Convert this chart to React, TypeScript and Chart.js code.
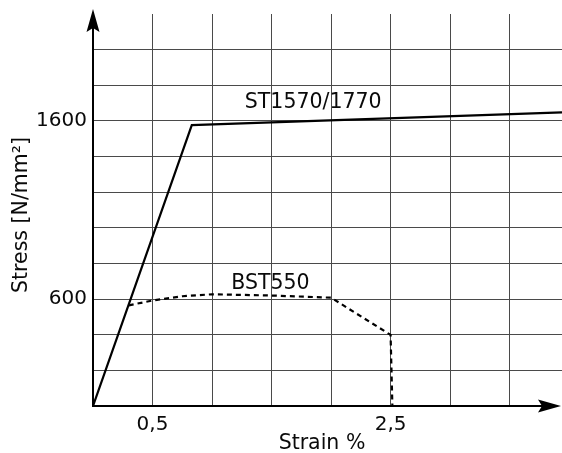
import React, { useEffect, useRef } from "react";
import { Chart, registerables } from "chart.js";

Chart.register(...registerables);

// Grid positions and which of them carry a label
const strainGrid = [0, 0.5, 1, 1.5, 2, 2.5, 3, 3.5];
const stressGrid = [0, 200, 400, 600, 800, 1000, 1200, 1400, 1600, 1800, 2000];
const strainLabelled = [0.5, 2.5];
const stressLabelled = [600, 1600];

// Prestressing steel curve
const st1570Strain = [0, 0.83, 3.94];
const st1570Stress = [0, 1576, 1648];

// Reinforcing steel curve (dashed)
const bst550Strain = [0.3, 0.5, 0.75, 1.0, 1.5, 2.0, 2.5, 2.515];
const bst550Stress = [565, 592, 616, 627, 620, 608, 399, 0];

// Curve names, placed at data coordinates
const curveNames = ["ST1570/1770", "BST550"];
const curveNameStrain = [1.85, 1.49];
const curveNameStress = [1702, 685];

const xTitle = "Strain %";
const yTitle = "Stress [N/mm²]";

const FONT = "'DejaVu Sans', Verdana, sans-serif";
const TEXT = "#0a0a0a";
const GRID = "#4a4a4a";

const toPoints = (xs: number[], ys: number[]) => xs.map((x, i) => ({ x, y: ys[i] }));
const fmt = (v: number) => String(v).replace(".", ",");

function arrowHead(ctx: CanvasRenderingContext2D, tipX: number, tipY: number, dir: "up" | "right") {
  const len = 23;
  const half = 6.5;
  const notch = 4;
  ctx.beginPath();
  if (dir === "up") {
    ctx.moveTo(tipX, tipY);
    ctx.lineTo(tipX + half, tipY + len);
    ctx.lineTo(tipX, tipY + len - notch);
    ctx.lineTo(tipX - half, tipY + len);
  } else {
    ctx.moveTo(tipX, tipY);
    ctx.lineTo(tipX - len, tipY + half);
    ctx.lineTo(tipX - len + notch, tipY);
    ctx.lineTo(tipX - len, tipY - half);
  }
  ctx.closePath();
  ctx.fill();
}

const decorations = {
  id: "decorations",
  afterDraw(chart: any) {
    const { ctx, chartArea, scales } = chart;
    const xs = scales.x;
    const ys = scales.y;
    const x0 = Math.round(xs.getPixelForValue(0));
    const y0 = Math.round(ys.getPixelForValue(0));
    ctx.save();
    ctx.strokeStyle = "#000";
    ctx.fillStyle = "#000";
    ctx.lineWidth = 2;
    // vertical axis with arrow
    ctx.beginPath();
    ctx.moveTo(x0, y0 + 1);
    ctx.lineTo(x0, 24);
    ctx.stroke();
    arrowHead(ctx, x0, 9, "up");
    // horizontal axis with arrow
    ctx.beginPath();
    ctx.moveTo(x0 - 1, y0);
    ctx.lineTo(chartArea.right - 12, y0);
    ctx.stroke();
    arrowHead(ctx, chartArea.right - 1, y0, "right");

    // curve names
    ctx.fillStyle = TEXT;
    ctx.font = `20.5px ${FONT}`;
    ctx.textAlign = "center";
    ctx.textBaseline = "middle";
    curveNames.forEach((name, i) => {
      ctx.fillText(name, xs.getPixelForValue(curveNameStrain[i]), ys.getPixelForValue(curveNameStress[i]));
    });

    // axis titles
    ctx.fillText(xTitle, 322, 444);
    ctx.translate(22, 215);
    ctx.rotate(-Math.PI / 2);
    ctx.fillText(yTitle, 0, 0);
    ctx.restore();
  },
};

export default function App() {
  const canvasRef = useRef<HTMLCanvasElement | null>(null);

  useEffect(() => {
    const canvas = canvasRef.current;
    if (!canvas) return;
    const chart = new Chart(canvas, {
      type: "scatter",
      data: {
        datasets: [
          {
            label: curveNames[0],
            data: toPoints(st1570Strain, st1570Stress),
            showLine: true,
            borderColor: "#000",
            borderWidth: 2.2,
            pointRadius: 0,
            tension: 0,
          },
          {
            label: curveNames[1],
            data: toPoints(bst550Strain, bst550Stress),
            showLine: true,
            borderColor: "#000",
            borderWidth: 2.2,
            borderDash: [5, 4],
            pointRadius: 0,
            tension: 0,
          },
        ],
      },
      options: {
        responsive: false,
        animation: false,
        devicePixelRatio: 1,
        layout: { padding: { top: 14, right: 0, left: 0, bottom: 0 } },
        plugins: {
          legend: { display: false },
          tooltip: { enabled: false },
        },
        scales: {
          x: {
            type: "linear",
            min: 0,
            max: 3.94,
            afterBuildTicks: (scale: any) => {
              scale.ticks = strainGrid.map((value) => ({ value }));
            },
            afterFit: (scale: any) => {
              scale.height = 47;
              scale.paddingLeft = 0;
              scale.paddingRight = 0;
            },
            border: { display: false },
            grid: {
              color: (c: any) => (c.tick && c.tick.value === 0 ? "rgba(0,0,0,0)" : GRID),
              lineWidth: 1,
              drawTicks: false,
            },
            ticks: {
              padding: 7,
              color: TEXT,
              font: { family: FONT, size: 20 },
              maxRotation: 0,
              autoSkip: false,
              callback: (v: any) => (strainLabelled.includes(Number(v)) ? fmt(Number(v)) : ""),
            },
          },
          y: {
            type: "linear",
            min: 0,
            max: 2200,
            afterBuildTicks: (scale: any) => {
              scale.ticks = stressGrid.map((value) => ({ value }));
            },
            afterFit: (scale: any) => {
              scale.width = 93;
              scale.paddingTop = 0;
              scale.paddingBottom = 0;
            },
            border: { display: false },
            grid: {
              color: (c: any) => (c.tick && c.tick.value === 0 ? "rgba(0,0,0,0)" : GRID),
              lineWidth: 1,
              drawTicks: false,
            },
            ticks: {
              padding: 6,
              color: TEXT,
              font: { family: FONT, size: 20 },
              autoSkip: false,
              callback: (v: any) => (stressLabelled.includes(Number(v)) ? String(v) : ""),
            },
          },
        },
      },
      plugins: [decorations],
    });
    return () => chart.destroy();
  }, []);

  return (
    <div style={{ position: "fixed", left: 0, top: 0, width: 562, height: 453, background: "#fff" }}>
      <canvas ref={canvasRef} width={562} height={453} style={{ display: "block" }} />
    </div>
  );
}
